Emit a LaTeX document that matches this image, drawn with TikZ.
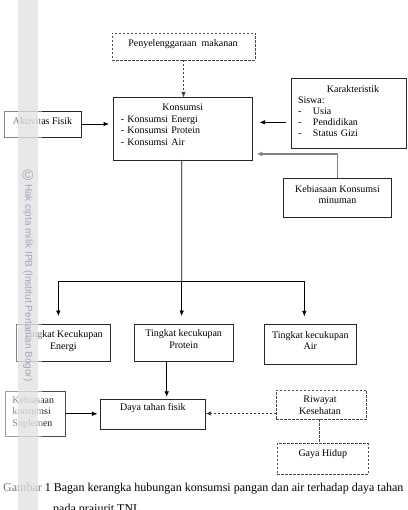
\documentclass[tikz,border=0pt]{standalone}
\usepackage{fontspec}
\setmainfont{Liberation Serif}
\newfontfamily\wmfont{Liberation Sans}
\usetikzlibrary{arrows.meta,calc}
\definecolor{wmc}{RGB}{160,166,184}
\begin{document}
\begin{tikzpicture}[x=1pt,y=-1pt,
  box/.style={draw=black!85,line width=0.7pt,inner sep=0pt,outer sep=0pt},
  dbox/.style={draw=black!70,line width=0.7pt,dash pattern=on 2.5pt off 1.5pt,inner sep=0pt,outer sep=0pt},
  txt/.style={font=\fontsize{10}{11.7}\selectfont,inner sep=0pt,align=center},
  arr/.style={line width=0.7pt,-{Latex[length=5.5pt,width=4.5pt]}},
  darr/.style={line width=0.7pt,black!75,dash pattern=on 2.5pt off 1.5pt,-{Latex[length=5.5pt,width=4.5pt]}},
]
\useasboundingbox (0,0) rectangle (407,510);

% boxes
\node[dbox,minimum width=143pt,minimum height=27pt] (peny) at (183.5,46.5) {};
\node[txt] (penyT) at (183,44.5) {Penyelenggaraan\ \ makanan};

\node[box,minimum width=139.5pt,minimum height=62.5pt] (kons) at (182.75,128.75) {};
\node[txt,align=left,text width=124pt] (konsT) at (182.75,124.6)
  {\makebox[124pt][c]{Konsumsi}\\- Konsumsi Energi\\- Konsumsi Protein\\- Konsumsi Air};

\node[box,minimum width=77pt,minimum height=26pt] (akt) at (42.5,124) {};
\node[txt] (aktT) at (42.5,121.5) {Aktivitas Fisik};

\node[box,minimum width=115.5pt,minimum height=70pt] (kar) at (348.75,113) {};
\node[txt,align=left,text width=110pt,font=\fontsize{10}{11}\selectfont] (karT) at (353,111.5)
  {\makebox[110pt][c]{Karakteristik}\\Siswa:\\\makebox[15pt][l]{-}Usia\\\makebox[15pt][l]{-}Pendidikan\\\makebox[15pt][l]{-}Status Gizi};

\node[box,minimum width=108.5pt,minimum height=39pt] (kebm) at (337.25,197.5) {};
\node[txt] (kebmT) at (337.5,194.5) {Kebiasaan Konsumsi\\minuman};

\node[box,minimum width=94pt,minimum height=37.7pt] (energi) at (63.7,342.9) {};
\node[txt] (energiT) at (63.3,341) {Tingkat Kecukupan\\Energi};

\node[box,minimum width=99pt,minimum height=37.7pt] (protein) at (183.8,342.9) {};
\node[txt] (proteinT) at (183.7,339.3) {Tingkat kecukupan\\Protein};

\node[box,minimum width=92.7pt,minimum height=39.7pt] (air) at (310.3,344.2) {};
\node[txt] (airT) at (310.3,340.5) {Tingkat kecukupan\\Air};

\node[box,minimum width=105.7pt,minimum height=30pt] (daya) at (152.8,414.3) {};
\node[txt] (dayaT) at (152.8,408.5) {Daya tahan fisik};

\node[box,draw=black!70,minimum width=60.4pt,minimum height=44.3pt] (supl) at (35.5,413.8) {};
\node[txt,align=left,text=black!85,anchor=west] (suplT) at (12.3,412.3) {Kebiasaan\\konsumsi\\Suplemen};

\node[dbox,minimum width=90.5pt,minimum height=29pt] (riw) at (321.25,404.5) {};
\node[txt] (riwT) at (320,405.2) {Riwayat\\Kesehatan};

\node[dbox,minimum width=90.7pt,minimum height=31.2pt] (gaya) at (322.65,458.9) {};
\node[txt] (gayaT) at (322.8,454.5) {Gaya Hidup};

% connectors
\draw[darr] (peny.south) -- (peny.south |- kons.north);
\draw[arr,shorten >=4pt] (akt.east) -- (akt.east -| kons.west);
\draw[arr,shorten <=5pt,shorten >=7pt] ([yshift=-9.3pt]kar.west) -- ([yshift=-9.3pt]kar.west -| kons.east);
\draw[line width=1.4pt,black!50,-{Latex[length=5.5pt,width=4.5pt]},shorten >=4pt]
  (kebm.north) |- ([yshift=-25.25pt]kons.east);

\coordinate (j) at (181.7,281.7);
\draw[line width=0.7pt] ([xshift=-1pt]kons.south) -- (j);
\draw[arr,shorten >=8pt] (j) -- (j |- protein.north);
\draw[arr,shorten >=8pt] (j) -| ([xshift=-5.4pt]energi.north);
\draw[arr,shorten >=8pt] (j) -| ([xshift=-6pt]air.north);

\draw[arr,shorten >=2.5pt] ([xshift=-17.1pt]protein.south) -- ([xshift=-17.1pt]protein.south |- daya.north);
\draw[arr,shorten >=2.5pt] (supl.east) -- (supl.east -| daya.west);
\draw[darr] ([yshift=-9pt]riw.west) -- ([yshift=-9pt]riw.west -| daya.east);
\draw[line width=0.7pt,black!70,dash pattern=on 2.5pt off 1.5pt] ([xshift=-2pt]riw.south) -- ([xshift=-2pt]riw.south |- gaya.north);

% caption
\node[anchor=base west,inner sep=0pt,font=\fontsize{12}{14}\selectfont] (cap1) at (3,491)
  {Gambar 1 Bagan kerangka hubungan konsumsi pangan dan air terhadap daya tahan};
\node[anchor=base west,inner sep=0pt,font=\fontsize{12}{14}\selectfont] (cap2) at (53,512.5)
  {pada prajurit TNI};

% watermark
\fill[white,opacity=0.45] (0,0) rectangle (42,510);
\fill[black!12,opacity=0.7] (18,0) rectangle (38,510);
\node[font=\wmfont\fontsize{15}{15}\selectfont,text=wmc,inner sep=0pt] (cr) at (28,175) {\textcopyright};
\node[rotate=-90,anchor=west,inner sep=0pt,font=\wmfont\fontsize{10}{10}\selectfont,text=wmc] (wm) at (28,184)
  {Hak cipta milik IPB (Institut Pertanian Bogor)};
\end{tikzpicture}
\end{document}
